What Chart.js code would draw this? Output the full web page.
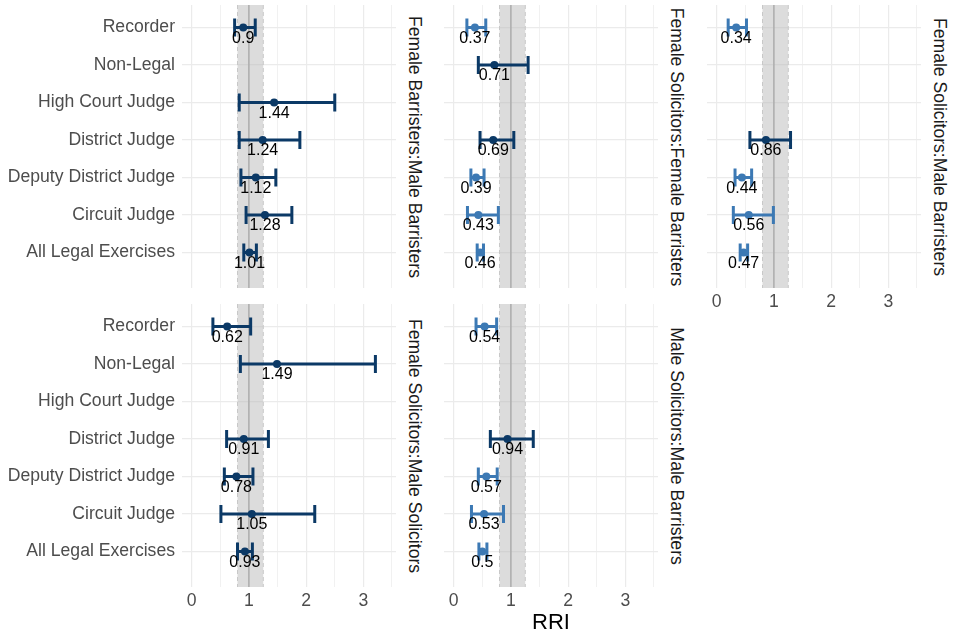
<!DOCTYPE html>
<html>
<head>
<meta charset="utf-8">
<script src="https://cdn.jsdelivr.net/npm/chart.js@4.4.0/dist/chart.umd.min.js"></script>
<style>
    body { margin: 0; background: #fff; width: 960px; height: 640px; overflow: hidden; position: relative; font-family: 'Liberation Sans', Arial, sans-serif; }
    canvas { position: absolute; }
    .strip { position: absolute; white-space: nowrap; font-size: 17.6px; line-height: 1; color: #1a1a1a; transform: translate(-50%, -50%) rotate(90deg); }
    #xtitle { position: absolute; left: 551px; top: 622px; transform: translate(-50%, -50%); font-size: 22px; color: #000; }
</style>
</head>
<body>
<canvas id="p1"></canvas>
<canvas id="p2"></canvas>
<canvas id="p3"></canvas>
<canvas id="p4"></canvas>
<canvas id="p5"></canvas>
<div id="xtitle">RRI</div>
<script>
var categories = ['Recorder', 'Non-Legal', 'High Court Judge', 'District Judge', 'Deputy District Judge', 'Circuit Judge', 'All Legal Exercises'];
var xTicks = [0, 0.5, 1, 1.5, 2, 2.5, 3, 3.5];
var bandLow = 0.8;
var bandHigh = 1.25;

// female barristers : male barristers
var rriFBMB = [0.9, null, 1.44, 1.24, 1.12, 1.28, 1.01];
var lowFBMB = [0.75, null, 0.83, 0.83, 0.86, 0.95, 0.91];
var uppFBMB = [1.11, null, 2.50, 1.89, 1.47, 1.75, 1.13];

// female solicitors : female barristers
var rriFSFB = [0.37, 0.71, null, 0.69, 0.39, 0.43, 0.46];
var lowFSFB = [0.23, 0.43, null, 0.46, 0.30, 0.24, 0.41];
var uppFSFB = [0.56, 1.30, null, 1.05, 0.53, 0.78, 0.52];

// female solicitors : male barristers
var rriFSMB = [0.34, null, null, 0.86, 0.44, 0.56, 0.47];
var lowFSMB = [0.20, null, null, 0.58, 0.32, 0.29, 0.41];
var uppFSMB = [0.52, null, null, 1.29, 0.61, 0.99, 0.54];

// female solicitors : male solicitors
var rriFSMS = [0.62, 1.49, null, 0.91, 0.78, 1.05, 0.93];
var lowFSMS = [0.37, 0.85, null, 0.61, 0.57, 0.51, 0.80];
var uppFSMS = [1.03, 3.21, null, 1.34, 1.07, 2.15, 1.06];

// male solicitors : male barristers
var rriMSMB = [0.54, null, null, 0.94, 0.57, 0.53, 0.5];
var lowMSMB = [0.39, null, null, 0.64, 0.43, 0.31, 0.44];
var uppMSMB = [0.75, null, null, 1.39, 0.76, 0.87, 0.58];

var DARK = '#0b3966';
var LIGHT = '#3c79b4';

// colour: lighter blue when the whole interval sits below 1
function barColor(upp) {
    return upp < 1 ? LIGHT : DARK;
}

// band, reference lines, error bars and value labels
var forestPlugin = {
    id: 'forest',
    beforeDatasetsDraw: function(chart) {
        var c = chart.ctx, a = chart.chartArea;
        var xs = chart.scales.x, ys = chart.scales.y;
        var d = chart.options.plugins.forest;
        var b0 = xs.getPixelForValue(bandLow), b1 = xs.getPixelForValue(bandHigh), one = xs.getPixelForValue(1);
        c.save();
        c.fillStyle = 'rgba(185,185,185,0.5)';
        c.fillRect(b0, a.top, b1 - b0, a.bottom - a.top);
        c.strokeStyle = '#c8c8c8';
        c.lineWidth = 1;
        c.setLineDash([4, 3]);
        [b0, b1].forEach(function(px) {
            c.beginPath(); c.moveTo(px, a.top); c.lineTo(px, a.bottom); c.stroke();
        });
        c.setLineDash([]);
        c.strokeStyle = '#9a9a9a';
        c.beginPath(); c.moveTo(one, a.top); c.lineTo(one, a.bottom); c.stroke();

        c.lineWidth = 3;
        for (var i = 0; i < d.rri.length; i++) {
            if (d.rri[i] === null) continue;
            var y = ys.getPixelForValue(i + 1);
            var xl = xs.getPixelForValue(d.low[i]), xu = xs.getPixelForValue(d.upp[i]);
            c.strokeStyle = barColor(d.upp[i]);
            c.beginPath();
            c.moveTo(xl, y); c.lineTo(xu, y);
            c.moveTo(xl, y - 9); c.lineTo(xl, y + 9);
            c.moveTo(xu, y - 9); c.lineTo(xu, y + 9);
            c.stroke();
        }
        c.restore();
    },
    afterDatasetsDraw: function(chart) {
        var c = chart.ctx;
        var xs = chart.scales.x, ys = chart.scales.y;
        var d = chart.options.plugins.forest;
        c.save();
        c.fillStyle = '#000';
        c.font = '16px "Liberation Sans", Arial, sans-serif';
        c.textAlign = 'center';
        c.textBaseline = 'middle';
        for (var i = 0; i < d.rri.length; i++) {
            if (d.rri[i] === null) continue;
            c.fillText(String(d.rri[i]), xs.getPixelForValue(d.rri[i]), ys.getPixelForValue(i + 1) + 11);
        }
        c.restore();
    }
};

function makePanel(id, name, rri, low, upp, left, top, showY, showX) {
    var yW = showY ? 182 : 0;
    var xH = showX ? 26 : 0;
    var canvas = document.getElementById(id);
    var w = yW + 214;
    var h = 283 + xH;
    canvas.width = w;
    canvas.height = h;
    canvas.style.left = (left - yW) + 'px';
    canvas.style.top = top + 'px';
    canvas.style.width = w + 'px';
    canvas.style.height = h + 'px';

    var points = [];
    for (var i = 0; i < rri.length; i++) {
        if (rri[i] !== null) points.push({ x: rri[i], y: i + 1, upp: upp[i] });
    }

    new Chart(canvas, {
        type: 'scatter',
        data: {
            datasets: [{
                data: points,
                pointRadius: 4,
                pointHoverRadius: 4,
                pointBorderWidth: 0,
                pointBackgroundColor: function(ctx) { return barColor(ctx.raw ? ctx.raw.upp : 2); },
                pointBorderColor: function(ctx) { return barColor(ctx.raw ? ctx.raw.upp : 2); }
            }]
        },
        options: {
            responsive: false,
            animation: false,
            devicePixelRatio: 1,
            layout: { padding: 0, autoPadding: false },
            plugins: {
                legend: { display: false },
                tooltip: { enabled: false },
                forest: { rri: rri, low: low, upp: upp }
            },
            scales: {
                x: {
                    type: 'linear',
                    min: -0.17,
                    max: 3.57,
                    afterBuildTicks: function(scale) {
                        scale.ticks = xTicks.map(function(v) { return { value: v }; });
                    },
                    afterFit: function(scale) {
                        scale.height = xH;
                        scale.paddingLeft = 0; scale.paddingRight = 0;
                    },
                    border: { display: false },
                    grid: {
                        drawTicks: false,
                        color: '#ebebeb',
                        lineWidth: function(ctx) { return ctx.tick && Number.isInteger(ctx.tick.value) ? 1.2 : 0.7; }
                    },
                    ticks: {
                        display: showX,
                        padding: 4,
                        color: '#4d4d4d',
                        font: { size: 17.6, family: "'Liberation Sans', Arial, sans-serif" },
                        maxRotation: 0,
                        autoSkip: false,
                        callback: function(v) { return Number.isInteger(v) ? String(v) : ''; }
                    }
                },
                y: {
                    type: 'linear',
                    reverse: true,
                    min: 0.4,
                    max: 7.95,
                    afterBuildTicks: function(scale) {
                        scale.ticks = categories.map(function(c, i) { return { value: i + 1 }; });
                    },
                    afterFit: function(scale) {
                        scale.width = yW;
                        scale.paddingTop = 0; scale.paddingBottom = 0;
                    },
                    border: { display: false },
                    grid: { drawTicks: false, color: '#ebebeb', lineWidth: 1.2 },
                    ticks: {
                        display: showY,
                        padding: 7,
                        color: '#4d4d4d',
                        font: { size: 17.6, family: "'Liberation Sans', Arial, sans-serif" },
                        autoSkip: false,
                        callback: function(v) { return categories[v - 1]; }
                    }
                }
            }
        },
        plugins: [forestPlugin]
    });

    // facet strip on the right side
    var s = document.createElement('div');
    s.className = 'strip';
    s.textContent = name;
    s.style.left = (left + 214 + 18) + 'px';
    s.style.top = (top + 283 / 2) + 'px';
    document.body.appendChild(s);
}

makePanel('p1', 'Female Barristers:Male Barristers', rriFBMB, lowFBMB, uppFBMB, 182, 5, true, false);
makePanel('p2', 'Female Solicitors:Female Barristers', rriFSFB, lowFSFB, uppFSFB, 444, 5, false, false);
makePanel('p3', 'Female Solicitors:Male Barristers', rriFSMB, lowFSMB, uppFSMB, 707, 5, false, true);
makePanel('p4', 'Female Solicitors:Male Solicitors', rriFSMS, lowFSMS, uppFSMS, 182, 304, true, true);
makePanel('p5', 'Male Solicitors:Male Barristers', rriMSMB, lowMSMB, uppMSMB, 444, 304, false, true);
</script>
</body>
</html>
